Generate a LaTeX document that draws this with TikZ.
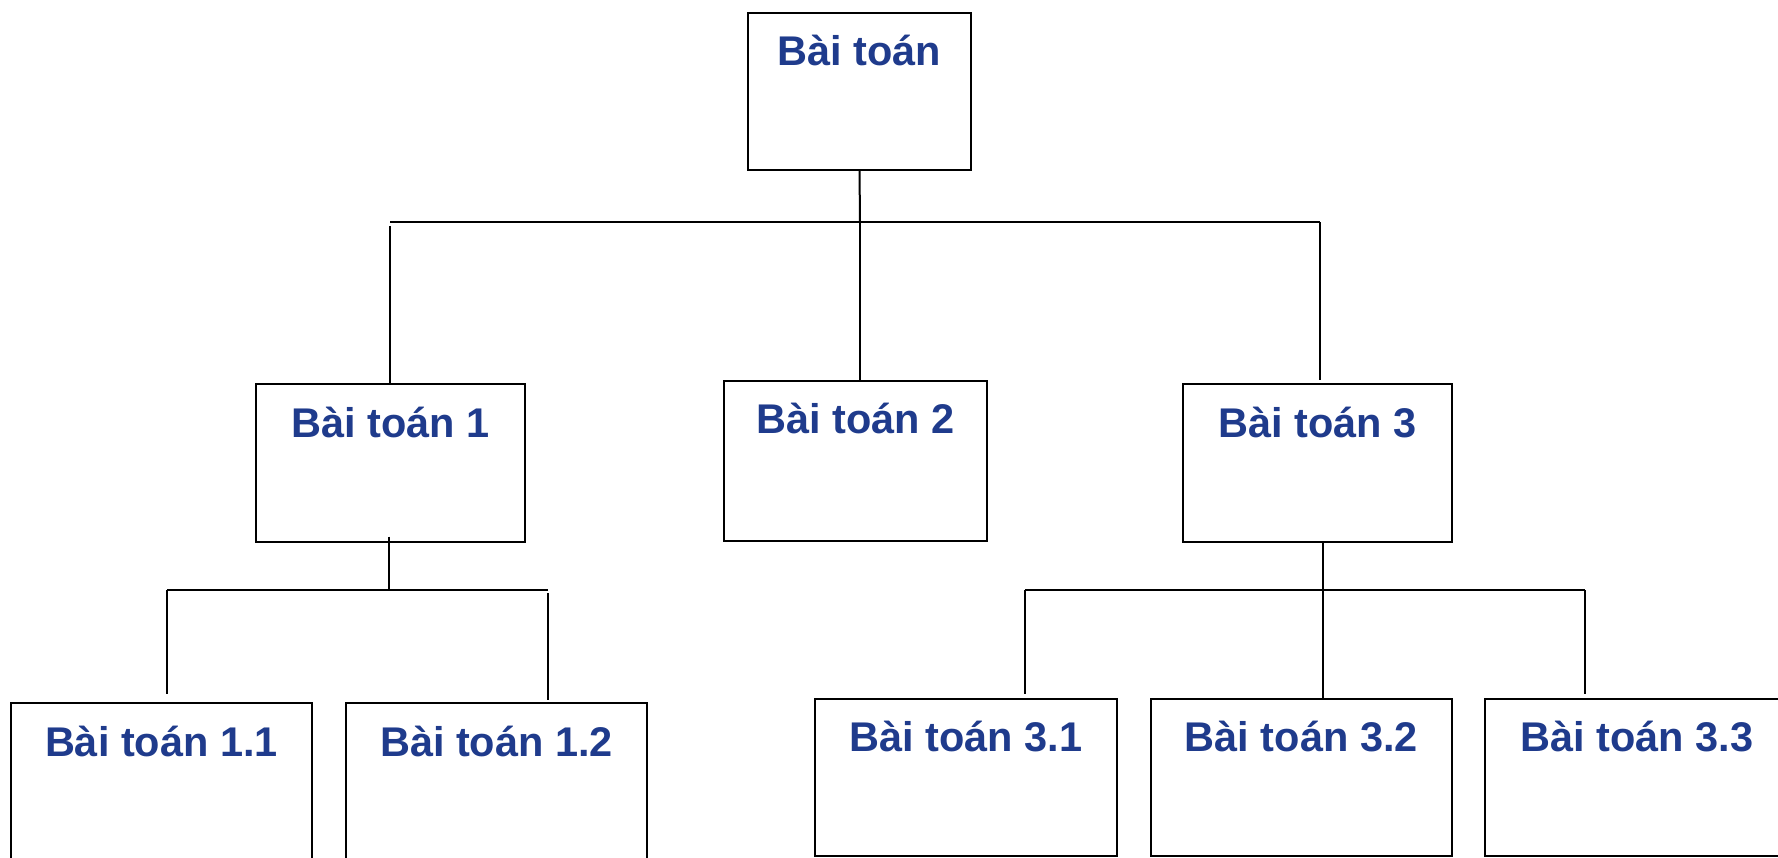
\documentclass[tikz,border=0pt]{standalone}
\usepackage{fontspec}
\setmainfont{Liberation Sans}
\usetikzlibrary{calc}
\definecolor{titleblue}{RGB}{31,59,140}
\tikzset{
  pbox/.style={draw=black, line width=1pt, rectangle, inner sep=0pt, outer sep=0pt},
  lbl/.style={anchor=base, inner sep=0pt, text=titleblue,
              font=\fontsize{20.75}{24}\selectfont\bfseries},
  wire/.style={draw=black, line width=1pt},
}
\begin{document}
\begin{tikzpicture}[x=0.5pt, y=-0.5pt]
\useasboundingbox (0,0) rectangle (1778,857);
\clip (0,0) rectangle (1778,857);

% boxes
\node[pbox, minimum width=111.5pt, minimum height=78.75pt] (root) at (859.5,91.25) {};
\node[pbox, minimum width=134.5pt, minimum height=78.75pt] (b1) at (390.5,462.75) {};
\node[pbox, minimum width=131.5pt, minimum height=80.25pt] (b2) at (855.5,460.75) {};
\node[pbox, minimum width=134.5pt, minimum height=79pt] (b3) at (1317.5,463) {};
\node[pbox, minimum width=150.5pt, minimum height=83.5pt] (b11) at (161.5,786.5) {};
\node[pbox, minimum width=150.5pt, minimum height=83.5pt] (b12) at (496.5,786.5) {};
\node[pbox, minimum width=151pt, minimum height=78.25pt] (b31) at (966,777.25) {};
\node[pbox, minimum width=150.75pt, minimum height=78.25pt] (b32) at (1301.25,777.25) {};
\node[pbox, minimum width=152pt, minimum height=78.25pt] (b33) at (1637,777.25) {};

% titles, near the top of each box
\node[lbl] (troot) at ([yshift=-26.25pt]root.north) {Bài toán};
\node[lbl] (tb1) at ([yshift=-26.75pt]b1.north) {Bài toán 1};
\node[lbl] (tb2) at ([yshift=-26.5pt]b2.north) {Bài toán 2};
\node[lbl] (tb3) at ([yshift=-26.5pt]b3.north) {Bài toán 3};
\node[lbl] (tb11) at ([yshift=-26.5pt]b11.north) {Bài toán 1.1};
\node[lbl] (tb12) at ([yshift=-26.5pt]b12.north) {Bài toán 1.2};
\node[lbl] (tb31) at ([yshift=-26pt]b31.north) {Bài toán 3.1};
\node[lbl] (tb32) at ([yshift=-26pt]b32.north) {Bài toán 3.2};
\node[lbl] (tb33) at ([yshift=-26pt]b33.north) {Bài toán 3.3};

% bus junctions
\coordinate (busA) at (860,222);
\coordinate (busAL) at (390,222);
\coordinate (busAR) at (1320,222);
\coordinate (bus1) at (389,590);
\coordinate (bus1L) at (167,590);
\coordinate (bus1R) at (548,590);
\coordinate (bus3) at (1323,590);
\coordinate (bus3L) at (1025,590);
\coordinate (bus3R) at (1585,590);

% first level
\draw[wire] (root.south) -- (busA);
\draw[wire] (busAL) -- (busAR);
\draw[wire] ([yshift=-2pt]busAL) -- (busAL |- b1.north);
\draw[wire] (busA) -- (busA |- b2.north);
\draw[wire, shorten >=2pt] (busAR) -- (busAR |- b3.north);

% under Bài toán 1
\draw[wire] ([yshift=2.5pt]bus1 |- b1.south) -- (bus1);
\draw[wire] (bus1L) -- (bus1R);
\draw[wire, shorten >=4.5pt] (bus1L) -- (bus1L |- b11.north);
\draw[wire, shorten >=1.5pt] ([yshift=-1.5pt]bus1R) -- (bus1R |- b12.north);

% under Bài toán 3
\draw[wire] (bus3 |- b3.south) -- (bus3);
\draw[wire] (bus3L) -- (bus3R);
\draw[wire, shorten >=2.5pt] (bus3L) -- (bus3L |- b31.north);
\draw[wire] (bus3) -- (bus3 |- b32.north);
\draw[wire, shorten >=2.5pt] (bus3R) -- (bus3R |- b33.north);
\end{tikzpicture}
\end{document}
